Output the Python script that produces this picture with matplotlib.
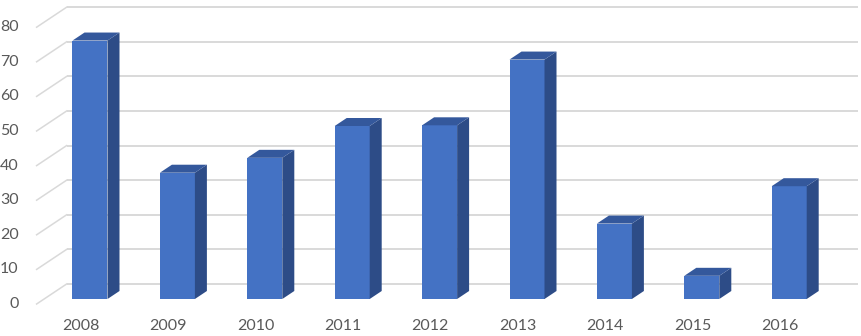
import matplotlib
matplotlib.use("Agg")
import matplotlib.pyplot as plt
from matplotlib.patches import Polygon
import numpy as np

# ---- data ----
years = ["2008", "2009", "2010", "2011", "2012", "2013", "2014", "2015", "2016"]
values = [74.7, 36.5, 40.8, 50.0, 50.2, 69.2, 21.8, 6.7, 32.6]
yticks = [0, 10, 20, 30, 40, 50, 60, 70, 80]

# ---- layout constants (pixels) ----
W, H = 861, 336
x0_px = 82.5        # front-floor centre of first category
sx = 87.4           # px per category
y0_px = 304.0       # front-floor value 0 (from top)
sy = 3.46           # px per value unit
depth_px = (30.0, 20.0)   # full floor depth vector (right, up)

fig = plt.figure(figsize=(W / 100, H / 100), dpi=100)
ax = fig.add_axes([0, 0, 1, 1])
ax.set_xlim((0 - x0_px) / sx, (W - x0_px) / sx)
ax.set_ylim((y0_px - H) / sy, y0_px / sy)
ax.axis("off")

Dx = depth_px[0] / sx
Dy = depth_px[1] / sy

grid_c = "#D9D9D9"
text_c = "#595959"
front_c = "#4472C4"
side_c = "#2D4C87"
top_c = "#34589C"

n = len(years)
xl, xr = -0.525, n - 1 + 0.525

# back wall gridlines and side wall diagonals
for t in yticks:
    ax.plot([xl + Dx, xr + Dx], [t + Dy, t + Dy], color=grid_c, lw=1.4,
            zorder=1, solid_capstyle="butt")
    ax.plot([xl, xl + Dx], [t, t + Dy], color=grid_c, lw=1.1, zorder=1)
    ax.text(xl - 18 / sx, t, str(t), ha="right", va="center",
            fontsize=11.5, color=text_c, family=["Lato", "DejaVu Sans"])

# bars
d1, d2 = 0.25, 0.65
w = 35 / sx
xs = np.arange(n)
fx = xs + d1 * Dx
fb = d1 * Dy
ax.bar(fx, values, width=w, bottom=fb, color=front_c, zorder=3,
       edgecolor="none")
ddx = (d2 - d1) * Dx
ddy = (d2 - d1) * Dy
for xc, v in zip(fx, values):
    L, R = xc - w / 2, xc + w / 2
    B, T = fb, fb + v
    side = Polygon([(R, B), (R + ddx, B + ddy), (R + ddx, T + ddy), (R, T)],
                   closed=True, facecolor=side_c, edgecolor="none", zorder=3)
    top = Polygon([(L, T), (R, T), (R + ddx, T + ddy), (L + ddx, T + ddy)],
                  closed=True, facecolor=top_c, edgecolor="none", zorder=3)
    ax.add_patch(side)
    ax.add_patch(top)

# category labels
for xc, lab in zip(xs, years):
    ax.text(xc - 0.02, (y0_px - 326) / sy, lab, ha="center", va="center",
            fontsize=11.5, color=text_c, family=["Lato", "DejaVu Sans"])

fig.savefig("out.png", dpi=100)
